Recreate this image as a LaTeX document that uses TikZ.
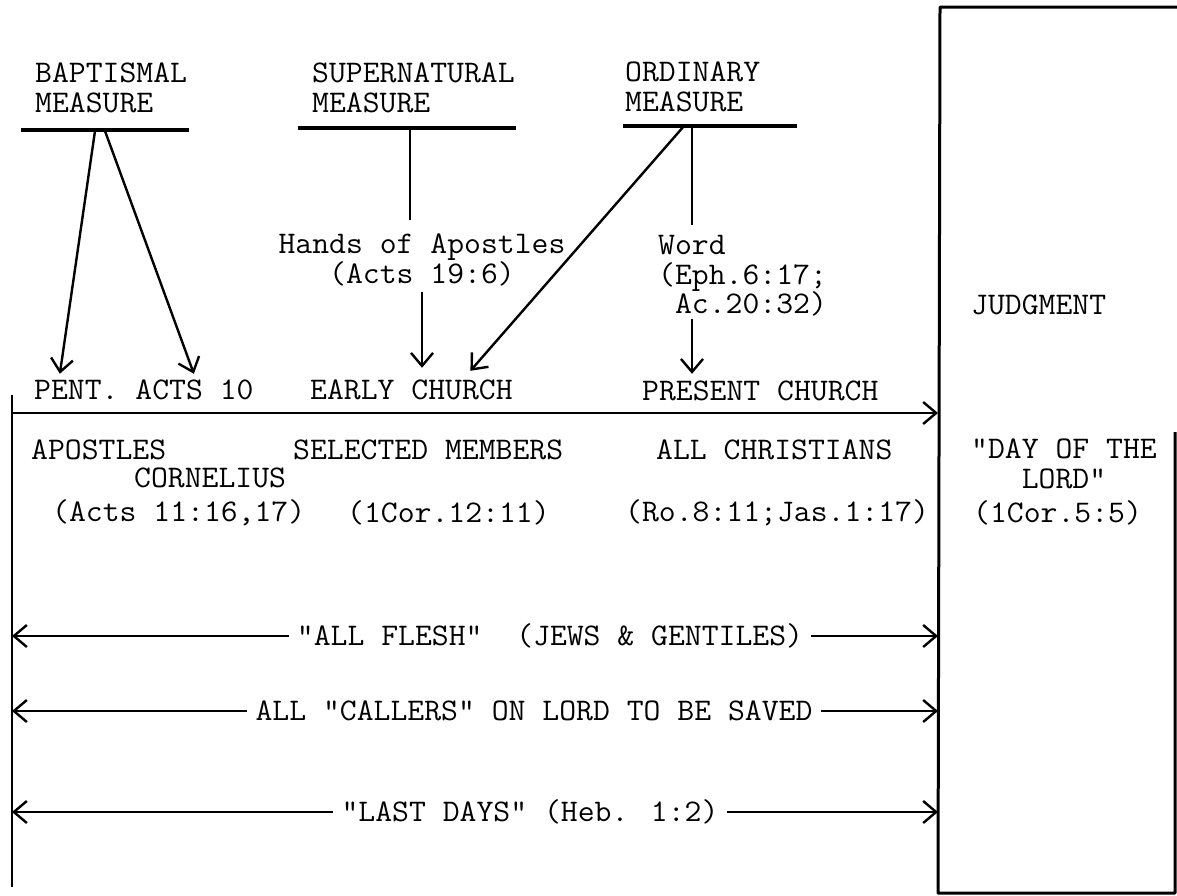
\documentclass[tikz,border=0pt]{standalone}
\usepackage{fontspec}
\setmainfont{Latin Modern Mono}[Ligatures=TeXOff, FakeStretch=1.04]
\usetikzlibrary{arrows.meta}

\begin{document}
\begin{tikzpicture}[x=1pt,y=-1pt,
  font=\fontsize{31.5}{29.5}\selectfont,
  every node/.style={inner sep=0pt},
  lbl/.style={anchor=west, align=left},
  rule/.style={line width=3.2pt},
  link/.style={line width=2.4pt},
  tip/.style={link, -{Straight Barb[length=13pt,width=22pt]}}]
  \useasboundingbox (0,0) rectangle (1177,895);

  % judgment box and time line
  \draw[line width=3pt, line join=round] (1177,7) -- (940,7) -- (938,893) -- (1175,893) -- (1175,432);
  \coordinate (box) at (938,7);
  \draw[link] (12,395) -- (12,887);
  \coordinate (tl) at (12,413);
  \draw[tip] (tl) -- (tl -| box);

  % the three measures
  \node[lbl] (bap) at (35,88) {BAPTISMAL\\MEASURE};
  \node[lbl] (sup) at (312,88) {SUPERNATURAL\\MEASURE};
  \node[lbl] (ord) at (625,87) {ORDINARY\\MEASURE};
  \draw[rule] (21,130) -- (189,130);
  \draw[rule] (298,128) -- (516,128);
  \draw[rule] (623,126) -- (797,126);
  \coordinate (b1) at (95,131);
  \coordinate (b2) at (105,131);
  \coordinate (s1) at (410,128);
  \coordinate (o1) at (684,126);
  \coordinate (o2) at (692,126);

  \node[anchor=center, align=center] (hands) at (422,260) {Hands of Apostles\\(Acts 19:6)};
  \node[lbl] (word) at (658,276) {Word\\(Eph.6:17;\\\phantom{(}Ac.20:32)};
  \node[lbl] (judg) at (971,305) {JUDGMENT};

  \node[lbl] (pent) at (34,390) {PENT. ACTS 10};
  \node[lbl] (early) at (310,390) {EARLY CHURCH};
  \node[lbl] (present) at (642,391) {PRESENT CHURCH};

  \node[lbl] (apost) at (31,450) {APOSTLES};
  \node[lbl] (corn) at (134,478) {CORNELIUS};
  \node[lbl] (selected) at (293,450) {SELECTED MEMBERS};
  \node[lbl] (allchr) at (656,450) {ALL CHRISTIANS};
  \node[anchor=west, align=center] (day) at (971,464) {"DAY OF THE\\LORD"};
  \node[lbl] (actsref) at (52,513) {(Acts 11:16,17)};
  \node[lbl] (corref) at (347,513) {(1Cor.12:11)};
  \node[lbl] (roref) at (625,513) {(Ro.8:11;Jas.1:17)};
  \node[lbl] (dayref) at (973,513) {(1Cor.5:5)};

  % connectors
  \draw[tip] (b1) -- ([xshift=-84pt,yshift=6pt]pent.north);
  \draw[tip] (b2) -- ([xshift=50pt,yshift=6pt]pent.north);
  \draw[link, shorten >=14pt] (s1) -- (s1 |- hands.north);
  \draw[tip, shorten <=6pt, shorten >=12pt] (hands.south) -- (hands.south |- early.north);
  \draw[tip] (o1) -- ([xshift=59pt,yshift=9pt]early.north);
  \draw[link, shorten >=10pt] (o2) -- (o2 |- word.north);
  \draw[tip, shorten <=2pt, shorten >=7pt] (o2 |- word.south) -- (o2 |- present.north);

  % spans
  \node[inner xsep=8pt] (flesh) at (550,636) {"ALL FLESH"\ \ (JEWS \& GENTILES)};
  \node[inner xsep=8pt] (callers) at (534,711) {ALL "CALLERS" ON LORD TO BE SAVED};
  \node[inner xsep=8pt] (lastdays) at (530,812) {"LAST DAYS" (Heb. 1:2)};
  \foreach \n in {flesh,callers,lastdays}{
    \draw[tip] (\n.west) -- (\n.west -| tl);
    \draw[tip] (\n.east) -- (\n.east -| box);
  }
\end{tikzpicture}
\end{document}
